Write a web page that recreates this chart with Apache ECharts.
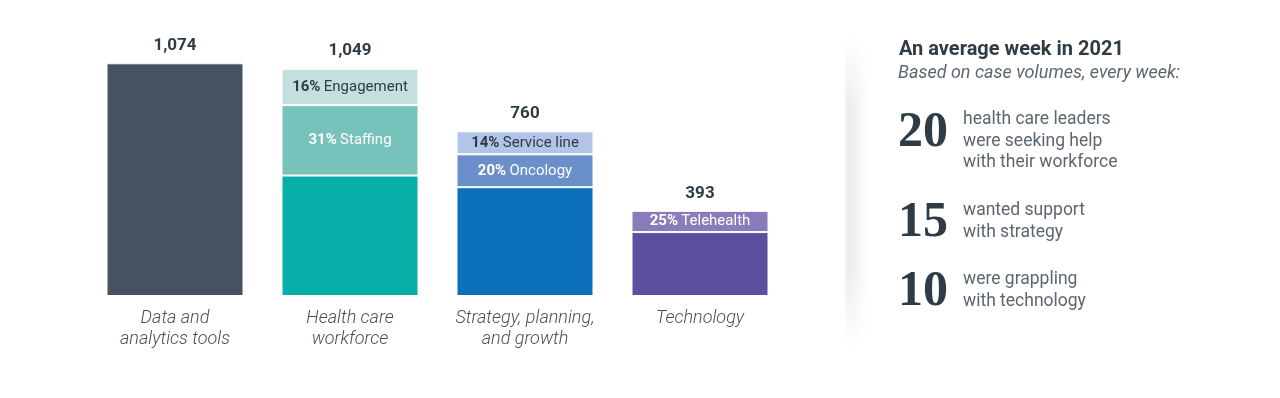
<!DOCTYPE html>
<html>
<head>
<meta charset="utf-8">
<script src="https://cdn.jsdelivr.net/npm/echarts@6/dist/echarts.min.js"></script>
<style>
  html, body { margin: 0; padding: 0; background: #fff; }
  #chart { width: 1280px; height: 398px; }
</style>
</head>
<body>
<div id="chart"></div>
<script>
// categories and case volumes
const categories = ['Data and\nanalytics tools', 'Health care\nworkforce', 'Strategy, planning,\nand growth', 'Technology'];
const totals = [1074, 1049, 760, 393];
// stacked pieces (bottom -> top), '-' = no piece
const baseValues = [1074, 556, 502, 295];
const midValues = ['-', 325, 152, 98];
const topValues = ['-', 168, 106, '-'];
const midPct = ['', '31%', '20%', '25%'];
const midNames = ['', 'Staffing', 'Oncology', 'Telehealth'];
const topPct = ['', '16%', '14%', ''];
const topNames = ['', 'Engagement', 'Service line', ''];

const baseColors = ['#45525f', '#06aea8', '#0b6fb9', '#5c4f9e'];
const midColors = ['#fff', '#78c2bc', '#6a8fca', '#8a7bbb'];
const topColors = ['#fff', '#c3e0de', '#b2c5e8', '#fff'];

// right panel
const weekTitle = 'An average week in 2021';
const weekSub = 'Based on case volumes, every week:';
const weekNums = ['20', '15', '10'];
const weekTexts = ['health care leaders\nwere seeking help\nwith their workforce', 'wanted support\nwith strategy', 'were grappling\nwith technology'];

const dark = '#2f3b46';
const font = 'Roboto';

const myChart = echarts.init(document.getElementById('chart'));

function segLabel(pct, names, color) {
    return {
        show: true,
        position: 'inside',
        formatter: p => pct[p.dataIndex] ? '{b|' + pct[p.dataIndex] + '} {n|' + names[p.dataIndex] + '}' : '',
        rich: {
            b: { fontFamily: font, fontWeight: 'bold', fontSize: 15, color: color },
            n: { fontFamily: font, fontSize: 15, color: color }
        }
    };
}

const numY = [133, 223, 292];
const textY = [109, 200, 269];
const rows = [];
weekNums.forEach((n, i) => {
    rows.push({
        type: 'text', x: 948, y: numY[i],
        style: { text: n, fontFamily: 'Liberation Serif', fontWeight: 'bold', fontSize: 50, fill: dark, textAlign: 'right', textVerticalAlign: 'middle' }
    });
    rows.push({
        type: 'text', x: 963, y: textY[i],
        style: { text: weekTexts[i], fontFamily: font, fontSize: 17.5, lineHeight: 21.5, fill: '#5d6670', textVerticalAlign: 'top' }
    });
});

const option = {
    animation: false,
    grid: { left: 87.5, right: 1280 - 787.5, top: 36, bottom: 102 },
    xAxis: {
        type: 'category',
        data: categories,
        axisLine: { show: false },
        axisTick: { show: false },
        axisLabel: { fontFamily: font, fontStyle: 'italic', fontWeight: 300, fontSize: 18, lineHeight: 21, color: '#4a4f55', margin: 12, interval: 0 }
    },
    yAxis: { type: 'value', min: 0, max: 1200, show: false },
    series: [
        {
            type: 'bar', stack: 'v', barWidth: 137,
            data: baseValues.map((v, i) => ({ value: v, itemStyle: { color: baseColors[i] } })),
            itemStyle: { borderColor: '#fff', borderWidth: 1 }
        },
        {
            type: 'bar', stack: 'v',
            data: midValues.map((v, i) => ({ value: v, itemStyle: { color: midColors[i] } })),
            itemStyle: { borderColor: '#fff', borderWidth: 1 },
            label: segLabel(midPct, midNames, '#fff')
        },
        {
            type: 'bar', stack: 'v',
            data: topValues.map((v, i) => ({ value: v, itemStyle: { color: topColors[i] } })),
            itemStyle: { borderColor: '#fff', borderWidth: 1 },
            label: segLabel(topPct, topNames, dark)
        },
        {
            // zero-height piece that carries the total on top
            type: 'bar', stack: 'v',
            data: totals.map(() => 0),
            label: {
                show: true, position: 'top', distance: 9,
                formatter: p => totals[p.dataIndex].toLocaleString('en-US'),
                fontFamily: font, fontWeight: 'bold', fontSize: 17, color: dark
            }
        }
    ],
    graphic: [
        {
            type: 'rect', shape: { x: 845, y: 35, width: 24, height: 315 },
            style: {
                fill: new echarts.graphic.LinearGradient(0, 0, 1, 0, [
                    { offset: 0, color: 'rgba(0,0,0,0.05)' },
                    { offset: 0.2, color: 'rgba(0,0,0,0.07)' },
                    { offset: 1, color: 'rgba(0,0,0,0)' }
                ])
            }
        },
        {
            type: 'rect', shape: { x: 840, y: 35, width: 34, height: 70 },
            style: {
                fill: new echarts.graphic.LinearGradient(0, 0, 0, 1, [
                    { offset: 0, color: 'rgba(255,255,255,1)' },
                    { offset: 1, color: 'rgba(255,255,255,0)' }
                ])
            }
        },
        {
            type: 'rect', shape: { x: 840, y: 270, width: 34, height: 80 },
            style: {
                fill: new echarts.graphic.LinearGradient(0, 0, 0, 1, [
                    { offset: 0, color: 'rgba(255,255,255,0)' },
                    { offset: 1, color: 'rgba(255,255,255,1)' }
                ])
            }
        },
        {
            type: 'text', x: 899, y: 50,
            style: { text: weekTitle, fontFamily: font, fontWeight: 'bold', fontSize: 20, fill: dark, textVerticalAlign: 'middle' }
        },
        {
            type: 'text', x: 898, y: 73,
            style: { text: weekSub, fontFamily: font, fontStyle: 'italic', fontSize: 18, fill: '#5d6670', textVerticalAlign: 'middle' }
        }
    ].concat(rows)
};

myChart.setOption(option);
</script>
</body>
</html>
